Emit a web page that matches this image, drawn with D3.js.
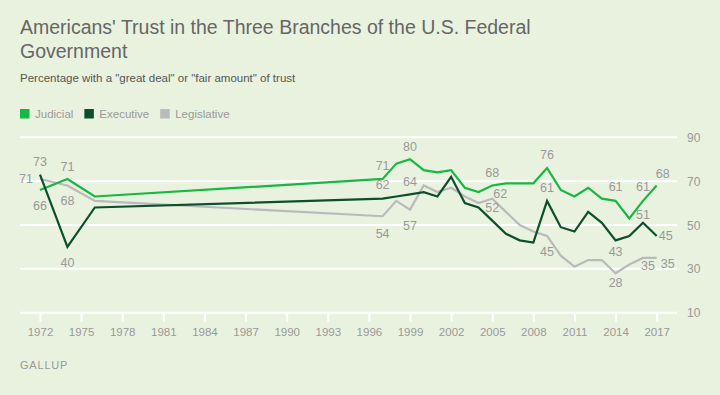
<!DOCTYPE html>
<html>
<head>
<meta charset="utf-8">
<script src="https://cdn.jsdelivr.net/npm/d3@7"></script>
<style>
  body { margin: 0; background: #e9f2df; }
  svg { display: block; font-family: "Liberation Sans", Arial, sans-serif; }
</style>
</head>
<body>
<div id="chart"></div>
<script>
const years = [1972, 1974, 1976, 1997, 1998, 1999, 2000, 2001, 2002, 2003, 2004, 2005,
  2006, 2007, 2008, 2009, 2010, 2011, 2012, 2013, 2014, 2015, 2016, 2017];
const judicial = [66, 71, 63, 71, 78, 80, 75, 74, 75, 67, 65, 68,
  69, 69, 69, 76, 66, 63, 67, 62, 61, 53, 61, 68];
const executive = [73, 40, 58, 62, 63, 64, 65, 63, 72, 60, 58, 52,
  46, 43, 42, 61, 49, 47, 56, 51, 43, 45, 51, 45];
const legislative = [71, 68, 61, 54, 61, 57, 68, 65, 67, 63, 60, 62,
  56, 50, 47, 45, 36, 31, 34, 34, 28, 32, 35, 35];
const xTicks = [1972, 1975, 1978, 1981, 1984, 1987, 1990, 1993, 1996, 1999, 2002, 2005, 2008, 2011, 2014, 2017];
const yTicks = [10, 30, 50, 70, 90];

const series = [
  { name: 'Legislative', values: legislative, color: '#bababa' },
  { name: 'Judicial', values: judicial, color: '#17b841' },
  { name: 'Executive', values: executive, color: '#0b4f2d' }
];
const legendOrder = ['Judicial', 'Executive', 'Legislative'];

// which points get a value label: [series, year, dx, dy]
const labels = [
  ['Legislative', 1972, -14, 0], ['Executive', 1972, 0, -13], ['Judicial', 1972, 0, 16],
  ['Judicial', 1974, 0, -12], ['Legislative', 1974, 0, 15], ['Executive', 1974, 0, 16],
  ['Judicial', 1997, 0, -13], ['Executive', 1997, 0, -14], ['Legislative', 1997, 0, 17],
  ['Judicial', 1999, 0, -13], ['Executive', 1999, 0, -13], ['Legislative', 1999, 0, 16],
  ['Judicial', 2005, 0, -13], ['Legislative', 2005, 8, -5], ['Executive', 2005, 0, -13],
  ['Judicial', 2009, 0, -13], ['Executive', 2009, 0, -13], ['Legislative', 2009, 0, 16],
  ['Judicial', 2014, 0, -14], ['Executive', 2014, 0, 11], ['Legislative', 2014, 0, 9],
  ['Judicial', 2016, 0, -14], ['Executive', 2016, 0, -8], ['Legislative', 2016, 5, 8],
  ['Judicial', 2017, 6, -12], ['Executive', 2017, 9, 0], ['Legislative', 2017, 11, 6]
];

const width = 720, height = 395;
const x = d3.scaleLinear().domain([1972, 2017]).range([40, 656.7]);
const y = d3.scaleLinear().domain([10, 90]).range([312.7, 137.3]);

const svg = d3.select('#chart').append('svg')
  .attr('width', width)
  .attr('height', height);

svg.append('rect').attr('width', width).attr('height', height).attr('fill', '#e9f2df');

// title
svg.append('text').attr('x', 20).attr('y', 34)
  .attr('fill', '#666').style('font-size', '19.5px')
  .text("Americans' Trust in the Three Branches of the U.S. Federal");
svg.append('text').attr('x', 20).attr('y', 57.5)
  .attr('fill', '#666').style('font-size', '19.5px')
  .text('Government');
svg.append('text').attr('x', 20).attr('y', 82)
  .attr('fill', '#555').style('font-size', '11.5px')
  .text('Percentage with a "great deal" or "fair amount" of trust');

// legend
let lx = 20;
legendOrder.forEach(name => {
  const s = series.find(d => d.name === name);
  svg.append('rect').attr('x', lx).attr('y', 109).attr('width', 9.5).attr('height', 9.5).attr('fill', s.color);
  const t = svg.append('text').attr('x', lx + 15).attr('y', 118)
    .attr('fill', '#999').style('font-size', '11.5px').text(name);
  lx += 15 + t.node().getComputedTextLength() + 11;
});

// grid
svg.append('g').selectAll('line').data(yTicks).join('line')
  .attr('x1', 20).attr('x2', 677)
  .attr('y1', d => y(d)).attr('y2', d => y(d))
  .attr('stroke', '#fff').attr('stroke-width', 2);

svg.append('g').selectAll('text').data(yTicks).join('text')
  .attr('x', 687).attr('y', d => y(d) + 4.5)
  .attr('fill', '#999').style('font-size', '12px')
  .text(d => d);

// x axis
const xAxis = d3.axisBottom(x).tickValues(xTicks).tickFormat(d3.format('d'))
  .tickSize(9).tickPadding(6);
const gx = svg.append('g').attr('transform', `translate(0,${y(10)})`).call(xAxis);
gx.select('.domain').remove();
gx.selectAll('line').attr('stroke', '#fff').attr('stroke-width', 2);
gx.selectAll('text').attr('fill', '#999').style('font-size', '11.5px')
  .style('font-family', '"Liberation Sans", Arial, sans-serif');

// lines
const line = d3.line().x((d, i) => x(years[i])).y(d => y(d));
svg.append('g').selectAll('path').data(series).join('path')
  .attr('d', d => line(d.values))
  .attr('fill', 'none')
  .attr('stroke', d => d.color)
  .attr('stroke-width', 2.2);

// value labels
svg.append('g').selectAll('text').data(labels).join('text')
  .attr('x', d => x(d[1]) + d[2])
  .attr('y', d => {
    const s = series.find(e => e.name === d[0]);
    return y(s.values[years.indexOf(d[1])]) + d[3] + 4.5;
  })
  .attr('text-anchor', 'middle')
  .attr('fill', '#999').style('font-size', '12.5px')
  .text(d => series.find(e => e.name === d[0]).values[years.indexOf(d[1])]);

svg.append('text').attr('x', 20).attr('y', 369)
  .attr('fill', '#999').style('font-size', '11px').style('letter-spacing', '0.8px')
  .text('GALLUP');
</script>
</body>
</html>
